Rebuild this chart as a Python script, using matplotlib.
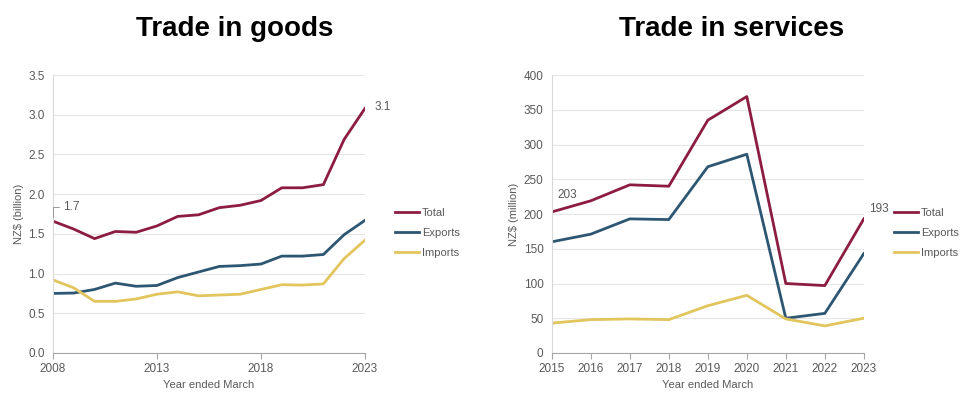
import matplotlib.pyplot as plt

plt.rcParams['font.family'] = ['Liberation Sans', 'DejaVu Sans']

# Trade in goods, NZ$ billion
goods_years = list(range(2008, 2024))
goods_total = [1.66, 1.56, 1.44, 1.53, 1.52, 1.60, 1.72, 1.74, 1.83, 1.86, 1.92, 2.08, 2.08, 2.12, 2.69, 3.08]
goods_exports = [0.75, 0.755, 0.80, 0.88, 0.84, 0.85, 0.95, 1.02, 1.09, 1.10, 1.12, 1.22, 1.22, 1.24, 1.49, 1.67]
goods_imports = [0.92, 0.82, 0.65, 0.65, 0.68, 0.74, 0.77, 0.72, 0.73, 0.74, 0.80, 0.86, 0.855, 0.87, 1.19, 1.42]

# Trade in services, NZ$ million
serv_years = list(range(2015, 2024))
serv_total = [203, 219, 242, 240, 335, 369, 100, 97, 193]
serv_exports = [160, 171, 193, 192, 268, 286, 50, 57, 143]
serv_imports = [43, 48, 49, 48, 68, 83, 49, 39, 50]

series_names = ['Total', 'Exports', 'Imports']
colors = ['#8c1c40', '#2d5673', '#e2c55c']
grey = '#595959'

fig = plt.figure(figsize=(9.63, 3.93), dpi=100)
ax1 = fig.add_axes([0.055, 0.1018, 0.324, 0.7073])
ax2 = fig.add_axes([0.573, 0.1018, 0.324, 0.7073])


def style_axis(ax):
    ax.grid(axis='y', color='#e6e6e6', linewidth=0.8)
    ax.set_axisbelow(True)
    for side in ['top', 'right']:
        ax.spines[side].set_visible(False)
    ax.spines['left'].set_color('#d9d9d9')
    ax.spines['bottom'].set_color('#a6a6a6')
    ax.tick_params(axis='y', length=0, labelsize=8.5, labelcolor=grey, pad=6)
    ax.tick_params(axis='x', length=4, color='#a6a6a6', labelsize=8.5, labelcolor=grey)
    ax.set_xlabel('Year ended March', fontsize=8, color=grey, labelpad=3)


def add_legend(ax):
    ax.legend(loc='center left', bbox_to_anchor=(1.064, 0.432), frameon=False, fontsize=8,
              handlelength=2.2, handletextpad=0.25, labelspacing=0.9, labelcolor=grey)


# goods
for vals, name, c in zip([goods_total, goods_exports, goods_imports], series_names, colors):
    ax1.plot(goods_years, vals, color=c, linewidth=2, label=name)
ax1.set_xlim(2008, 2023)
ax1.set_ylim(0, 3.5)
ax1.set_xticks([2008, 2013, 2018, 2023])
ax1.set_yticks([i * 0.5 for i in range(8)])
ax1.set_yticklabels(['%.1f' % (i * 0.5) for i in range(8)])
style_axis(ax1)
ax1.set_ylabel('NZ$ (billion)', fontsize=8, color=grey, labelpad=3)
ax1.set_title('Trade in goods', fontsize=20, fontweight='bold', pad=28, x=0.583)
ax1.annotate('%.1f' % goods_total[0], xy=(goods_years[0], goods_total[0]),
             xytext=(7, 10), textcoords='offset points', fontsize=8.5, color=grey,
             va='center', arrowprops=dict(arrowstyle='-', color='#999999', lw=0.7,
                                          connectionstyle='angle,angleA=0,angleB=90,rad=0',
                                          shrinkA=1, shrinkB=3))
ax1.annotate('%.1f' % goods_total[-1], xy=(goods_years[-1], goods_total[-1]),
             xytext=(7, 1), textcoords='offset points', fontsize=8.5, color=grey, va='center')
add_legend(ax1)

# services
for vals, name, c in zip([serv_total, serv_exports, serv_imports], series_names, colors):
    ax2.plot(serv_years, vals, color=c, linewidth=2, label=name)
ax2.set_xlim(2015, 2023)
ax2.set_ylim(0, 400)
ax2.set_xticks(serv_years)
ax2.set_yticks(range(0, 401, 50))
style_axis(ax2)
ax2.set_ylabel('NZ$ (million)', fontsize=8, color=grey, labelpad=3)
ax2.set_title('Trade in services', fontsize=20, fontweight='bold', pad=28, x=0.577)
ax2.annotate(str(serv_total[0]), xy=(serv_years[0], serv_total[0]),
             xytext=(4, 12), textcoords='offset points', fontsize=8.5, color=grey, va='center')
ax2.annotate(str(serv_total[-1]), xy=(serv_years[-1], serv_total[-1]),
             xytext=(4, 7), textcoords='offset points', fontsize=8.5, color=grey, va='center')
add_legend(ax2)

fig.savefig('out.png', dpi=100)
